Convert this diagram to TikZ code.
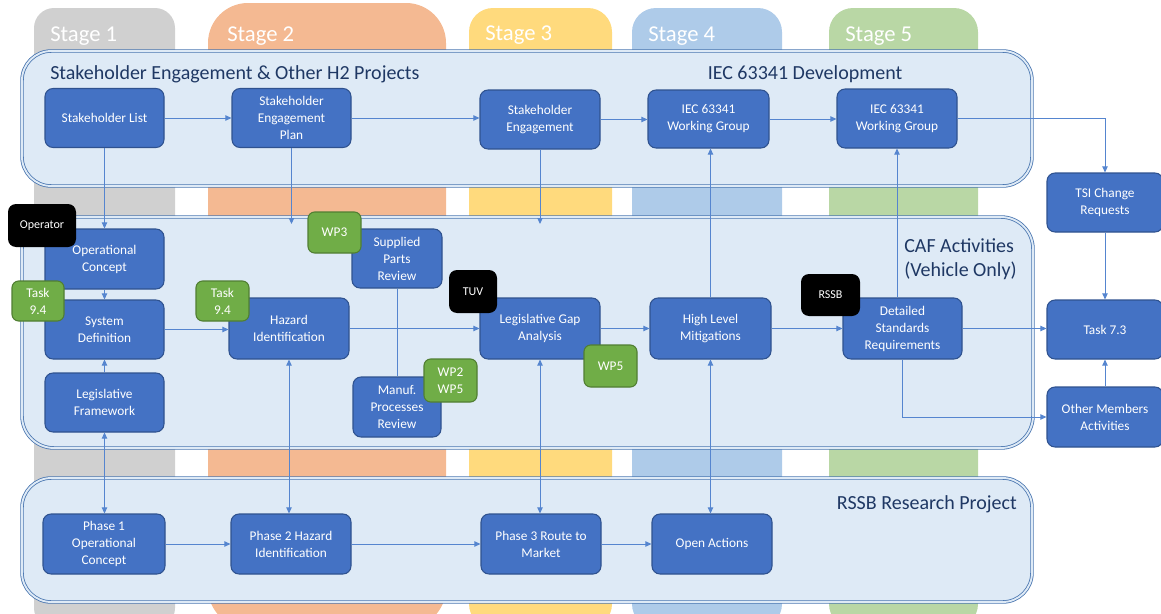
\documentclass[tikz,border=0pt]{standalone}
\usepackage{fontspec}
\setmainfont{Carlito}
\usetikzlibrary{arrows.meta}
\definecolor{stgA}{HTML}{D0D0D0}
\definecolor{stgB}{HTML}{F4B992}
\definecolor{stgC}{HTML}{FFDA7D}
\definecolor{stgD}{HTML}{AECBE9}
\definecolor{stgE}{HTML}{B9D7A5}
\definecolor{lanefill}{HTML}{DEEAF6}
\definecolor{laneedge}{HTML}{4A76B0}
\definecolor{boxblue}{HTML}{4472C4}
\definecolor{boxedge}{HTML}{2F528F}
\definecolor{taggreen}{HTML}{70AD47}
\definecolor{tagedge}{HTML}{507E32}
\definecolor{arrowblue}{HTML}{5585CF}
\definecolor{titleblue}{HTML}{1F3864}
\newcommand\boxfont{\fontsize{10}{12.75}\selectfont}
\newcommand\tagfont{\fontsize{9}{10}\selectfont}
\newcommand\titlefont{\fontsize{15}{18}\selectfont}
\newcommand\stagefont{\fontsize{17}{20}\selectfont}
\newcommand\bx[7]{\node[#1, minimum width=#5*0.75pt, minimum height=#6*0.75pt] (#2) at (#3,#4) {#7};}
\begin{document}
\begin{tikzpicture}[x=0.75pt,y=-0.75pt,
 box/.style={rectangle, rounded corners=6pt, fill=boxblue, draw=boxedge, line width=0.8pt, text=white, align=center, font=\boxfont, inner sep=0pt},
 gtag/.style={rectangle, rounded corners=5pt, fill=taggreen, draw=tagedge, line width=0.8pt, text=white, align=center, font=\boxfont, inner sep=0pt},
 btag/.style={rectangle, rounded corners=6pt, fill=black, text=white, align=center, font=\tagfont, inner sep=0pt},
 conn/.style={draw=arrowblue, line width=0.7pt},
 arr/.style={conn, -{Triangle[length=4.5pt,width=4pt]}},
 darr/.style={conn, {Triangle[length=4.5pt,width=4pt]}-{Triangle[length=4.5pt,width=4pt]}},
 lane/.style={fill=lanefill, draw=laneedge, double=lanefill, double distance=1.4pt, line width=0.6pt},
 stagelbl/.style={anchor=west, text=white, font=\stagefont, inner sep=0pt},
 ttl/.style={font=\titlefont, text=titleblue, inner sep=0pt}]
\useasboundingbox (0,0) rectangle (1161,614);
\clip (0,0) rectangle (1161,614);
% stage columns
\fill[stgA, rounded corners=15pt] (34,8) rectangle (175,628);
\fill[stgB, rounded corners=30pt] (208,3) rectangle (446,628);
\fill[stgC, rounded corners=18pt] (469,8) rectangle (612,628);
\fill[stgD, rounded corners=18pt] (632,8) rectangle (782,628);
\fill[stgE, rounded corners=18pt] (829,8) rectangle (978,628);
\node[stagelbl] (st1) at (50,36) {Stage 1};
\node[stagelbl] (st2) at (227,36) {Stage 2};
\node[stagelbl] (st3) at (485,35) {Stage 3};
\node[stagelbl] (st4) at (648,36) {Stage 4};
\node[stagelbl] (st5) at (845,36) {Stage 5};
% lanes
\draw[lane, rounded corners=22pt] (22,51) rectangle (1032,186);
\draw[lane, rounded corners=24pt] (22,217) rectangle (1033,448);
\draw[lane, rounded corners=22pt] (22,478) rectangle (1032,602);
\node[ttl, anchor=west] (t1) at (50,74) {Stakeholder Engagement \& Other H2 Projects};
\node[ttl] (t2) at (805,74) {IEC 63341 Development};
\node[ttl, anchor=west, align=left] (t3) at (904,259) {CAF Activities\\(Vehicle Only)};
\node[ttl, anchor=east] (t4) at (1017,504) {RSSB Research Project};
% boxes
\bx{box}{SL}{104.5}{118}{119}{59}{Stakeholder List}
\bx{box}{SEP}{291.5}{118}{119}{59}{Stakeholder\\Engagement\\Plan}
\bx{box}{SE}{540}{119.5}{120}{59}{Stakeholder\\Engagement}
\bx{box}{IEC1}{708.5}{119}{121}{58}{IEC 63341\\Working Group}
\bx{box}{IEC2}{897}{118.5}{120}{59}{IEC 63341\\Working Group}
\bx{box}{OpCon}{104.5}{259}{119}{60}{Operational\\Concept}
\bx{box}{SysDef}{104.5}{329.5}{119}{59}{System\\Definition}
\bx{box}{LF}{104.5}{402.5}{119}{59}{Legislative\\Framework}
\bx{box}{HazId}{289}{328.5}{120}{61}{Hazard\\Identification}
\bx{box}{SPR}{397}{258.5}{90}{59}{Supplied\\Parts\\Review}
\bx{box}{MPR}{397}{407}{88}{60}{Manuf.\\Processes\\Review}
\bx{box}{LGA}{540}{328.5}{120}{61}{Legislative Gap\\Analysis}
\bx{box}{HLM}{710.5}{328.5}{121}{61}{High Level\\Mitigations}
\bx{box}{DSR}{902.5}{328.5}{119}{61}{Detailed\\Standards\\Requirements}
\bx{box}{TSI}{1105}{202.5}{116}{59}{TSI Change\\Requests}
\bx{box}{T73}{1105}{329.5}{116}{59}{Task 7.3}
\bx{box}{OMA}{1105}{417}{116}{60}{Other Members\\Activities}
\bx{box}{Ph1}{104}{544}{122}{60}{Phase 1\\Operational\\Concept}
\bx{box}{Ph2}{291}{544}{120}{60}{Phase 2 Hazard\\Identification}
\bx{box}{Ph3}{541}{544}{120}{60}{Phase 3 Route to\\Market}
\bx{box}{OA}{712}{544}{120}{60}{Open Actions}
% tags
\bx{btag}{Oper}{42}{225.5}{68}{43}{Operator}
\bx{gtag}{TaskA}{38}{301}{52}{40}{Task\\9.4}
\bx{gtag}{TaskB}{222.5}{301}{53}{40}{Task\\9.4}
\bx{gtag}{WPthree}{334.5}{232.5}{53}{41}{WP3}
\bx{gtag}{WPtwofive}{450.5}{380.5}{53}{43}{WP2\\WP5}
\bx{btag}{TUV}{473}{291.5}{48}{43}{TUV}
\bx{gtag}{WPfive}{610.5}{366}{53}{42}{WP5}
\bx{btag}{RSSBtag}{830.5}{295}{59}{42}{RSSB}
% coordinates for free ends
\coordinate (cafA) at (291.5,224);
\coordinate (cafB) at (540,224);
% connectors
\draw[arr] (SL.east) -- (SEP.west);
\draw[arr] (SEP.east) -- (SEP.east -| SE.west);
\draw[arr] (SE.east) -- (SE.east -| IEC1.west);
\draw[arr] (IEC1.east) -- (IEC1.east -| IEC2.west);
\draw[arr] (IEC2.east) -| (TSI.north);
\draw[arr] (SL.south) -- (OpCon.north);
\draw[arr] (SEP.south) -- (cafA);
\draw[arr] (SE.south) -- (cafB);
\draw[arr] (OpCon.south) -- (SysDef.north);
\draw[arr] (LF.north) -- (SysDef.south);
\draw[arr] (SysDef.east) -- (SysDef.east -| HazId.west);
\draw[arr] (HazId.east) -- (LGA.west);
\draw[conn] (SPR.south) -- (MPR.north);
\draw[arr] (LGA.east) -- (HLM.west);
\draw[arr] (HLM.east) -- (DSR.west);
\draw[arr] (DSR.east) -- (DSR.east -| T73.west);
\draw[arr] (HLM.north) -- (HLM.north |- IEC1.south);
\draw[arr] (IEC2.south |- DSR.north) -- (IEC2.south);
\draw[arr] (DSR.south) |- (OMA.west);
\draw[arr] (TSI.south) -- (T73.north);
\draw[arr] (OMA.north) -- (T73.south);
\draw[darr] (LF.south) -- (LF.south |- Ph1.north);
\draw[darr] (HazId.south) -- (HazId.south |- Ph2.north);
\draw[darr] (LGA.south) -- (LGA.south |- Ph3.north);
\draw[darr] (HLM.south) -- (HLM.south |- OA.north);
\draw[arr] (Ph1.east) -- (Ph1.east -| Ph2.west);
\draw[arr] (Ph2.east) -- (Ph2.east -| Ph3.west);
\draw[arr] (Ph3.east) -- (Ph3.east -| OA.west);
\end{tikzpicture}
\end{document}
